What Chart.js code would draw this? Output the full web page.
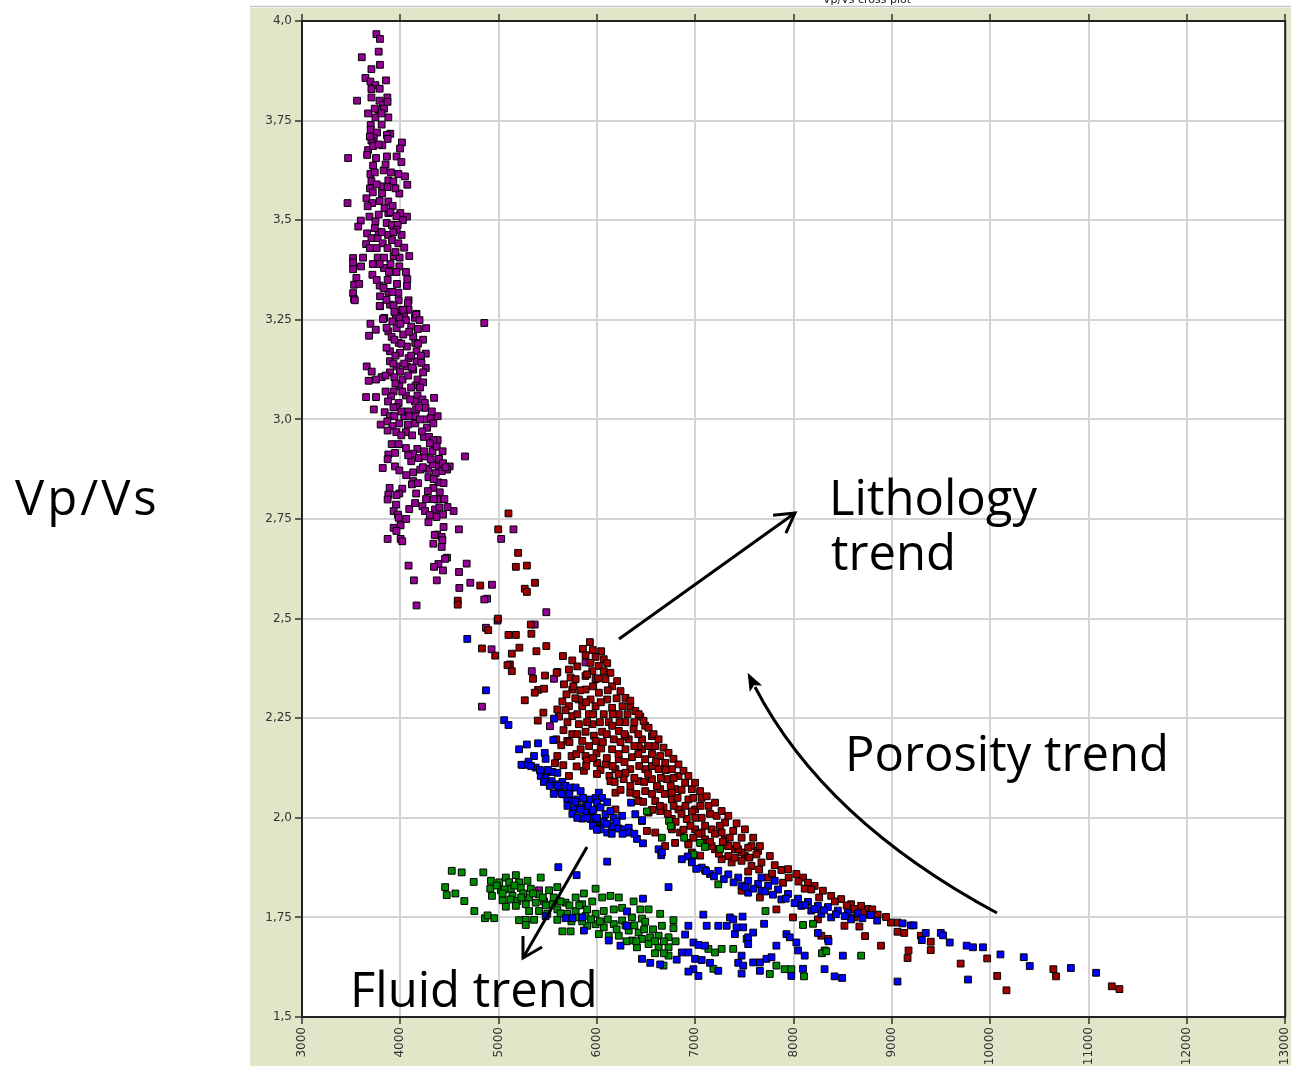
<!DOCTYPE html>
<html>
<head>
<meta charset="utf-8">
<script src="https://cdn.jsdelivr.net/npm/chart.js@4/dist/chart.umd.min.js"></script>
<style>
html,body{margin:0;padding:0;background:#fff;}
canvas{display:block;}
</style>
</head>
<body>
<canvas id="c" width="1291" height="1066"></canvas>
<script>
// ---- axis ranges / ticks ----
const xRange = [3000, 13000];
const yRange = [1.5, 4.0];
const xStep = 1000;
const yStep = 0.25;

// ---- series (x, Vp/Vs) ----
const purplePoints = [
[3757,3.967],[3793,3.955],[3780,3.923],[3608,3.909],[3793,3.89],[3706,3.879],[3645,3.857],[3854,3.851],[3696,3.848],[3747,3.839],
[3706,3.829],[3560,3.80],[3706,3.808],[3788,3.80],[3868,3.808],[3824,3.79],[3870,3.797],[3780,3.777],[3834,3.78],[3672,3.768],
[3747,3.758],[3878,3.758],[3808,3.768],[3699,3.739],[3699,3.727],[3763,3.72],[3730,3.706],[3898,3.717],[3864,3.714],[3871,3.704],
[4016,3.695],[3997,3.68],[3817,3.688],[3706,3.70],[3672,3.676],[3723,3.686],[3662,3.664],[3469,3.656],[3753,3.656],[3864,3.66],
[3962,3.66],[4011,3.646],[3723,3.637],[3831,3.625],[3696,3.616],[3980,3.616],[4047,3.61],[3878,3.60],[3929,3.597],[4071,3.589],
[3706,3.598],[3814,3.585],[3871,3.583],[3990,3.567],[3814,3.567],[3692,3.58],[3655,3.555],[3463,3.543],[3713,3.543],[3790,3.548],
[3878,3.547],[3922,3.536],[3668,3.535],[3878,3.518],[3780,3.514],[3686,3.509],[4000,3.518],[4067,3.509],[4026,3.50],[3598,3.499],
[3572,3.484],[3747,3.497],[3861,3.493],[3915,3.488],[3973,3.488],[4013,3.463],[3963,3.476],[3662,3.467],[3706,3.455],[3769,3.455],
[3652,3.44],[3780,3.471],[3875,3.463],[3821,3.442],[3915,3.45],[3980,3.442],[4040,3.431],[4091,3.41],[3520,3.405],[3621,3.406],
[3770,3.406],[3834,3.406],[3932,3.41],[3993,3.406],[3520,3.394],[3601,3.384],[3520,3.377],[3716,3.363],[3553,3.355],[3834,3.38],
[3885,3.37],[3990,3.384],[4057,3.37],[4071,3.352],[3530,3.338],[3582,3.34],[3790,3.336],[3871,3.35],[3966,3.34],[4067,3.335],
[3520,3.317],[3794,3.309],[3878,3.32],[3980,3.318],[3530,3.302],[4084,3.299],[3983,3.299],[3794,3.284],[3895,3.288],[3932,3.286],
[4013,3.275],[4084,3.275],[4165,3.265],[4148,3.255],[3837,3.255],[3956,3.26],[4040,3.26],
[3537,3.299],[3790,3.285],[4077,3.292],[4030,3.275],[3824,3.252],[3919,3.246],[3993,3.254],[4161,3.263],[4195,3.249],[4057,3.249],
[4854,3.242],[3696,3.24],[3750,3.225],[3682,3.21],[3878,3.221],[3962,3.229],[4111,3.233],[4179,3.227],[4262,3.229],[3912,3.207],
[4030,3.213],[4131,3.208],[4232,3.20],[3983,3.192],[4067,3.183],[4152,3.192],[3895,3.171],[3996,3.167],[4165,3.171],[4259,3.165],
[4084,3.154],[3895,3.146],[4165,3.146],[3962,3.133],[3658,3.133],[3709,3.12],[4067,3.133],[4259,3.129],[4215,3.142],[3895,3.118],
[3996,3.12],[4131,3.125],[4232,3.118],[3810,3.106],[3753,3.10],[3678,3.097],[3939,3.106],[4023,3.10],[4175,3.10],[4232,3.093],
[4155,3.085],[3990,3.083],[3932,3.07],[3905,3.058],[4057,3.06],[4175,3.06],[4225,3.05],[4343,3.054],[3652,3.056],[3753,3.056],
[3875,3.045],[3983,3.041],[4148,3.045],[4249,3.041],[3730,3.025],[3841,3.018],[3962,3.031],[4077,3.02],[4161,3.025],[4256,3.029],
[3895,3.008],[3939,3.008],[4040,3.008],[4091,3.008],[4155,3.008],[4262,3.00],[4309,3.004],[4380,3.008],[3800,2.987],[3868,2.995],
[3919,2.983],[4077,2.987],[4152,2.99],[4272,2.979],[4336,2.99],[3871,2.972],[3959,2.968],[4057,2.968],[4239,2.956],[4293,2.956],
[4351,2.932],[4380,2.948],[4336,2.948],[3912,2.938],[3983,2.938],[4057,2.928],[4173,2.926],[4327,2.92],[4370,2.932],[3878,2.912],
[3946,2.916],[4131,2.914],[4189,2.903],[4249,2.907],[4394,2.901],[4658,2.907],[3871,2.90],[4111,2.895],[3821,2.878],[3946,2.882],
[3990,2.872],[4131,2.867],[4203,2.874],[4283,2.876],[4327,2.887],[4394,2.882],[4434,2.89],[4502,2.882],[4476,2.874],[4421,2.87],
[4360,2.865],[4286,2.855],[4131,2.845],[4118,2.837],[4387,2.842],[4336,2.828],[3891,2.828],[4020,2.826],[3878,2.811],[3990,2.814],
[4161,2.814],[4262,2.80],[4401,2.817],[4448,2.80],[4374,2.799],[3871,2.799],[3956,2.786],[4091,2.775],[4225,2.782],[4252,2.77],
[4353,2.774],[4397,2.779],[3932,2.77],[3976,2.761],[3983,2.753],[4542,2.77],[4434,2.761],[4367,2.755],[4286,2.742],[3932,2.728],
[4003,2.734],[3871,2.70],[4003,2.70],[4020,2.694],[4336,2.688],[4374,2.711],[4421,2.705],[4428,2.697],[4421,2.68],[4596,2.724],
[4475,2.653],[4455,2.65],[4675,2.638],[4084,2.633],[4387,2.637],[4343,2.63],[4434,2.621],[4597,2.617],[4138,2.596],[4371,2.596],
[4712,2.59],[4600,2.577],[4932,2.585],[4883,2.55],[4165,2.533],[5151,2.724],[5026,2.70],[5485,2.516],[4854,2.548],[4989,2.495],
[5367,2.485],[4871,2.477],[4928,2.423],[5337,2.368],[5563,2.349],[4830,2.279],[5522,2.23],[5884,2.39],[5411,1.818],[5597,1.792],
[3740,3.62],[3850,3.64],[3905,3.62],[3760,3.59],[3950,3.58],[3720,3.57],[3840,3.53],[3900,3.52],[3960,3.51],[3740,3.48],
[3810,3.47],[3930,3.47],[3690,3.43],[3760,3.43],[3870,3.43],[3950,3.42],[3720,3.39],[3790,3.39],[3900,3.39],[3960,3.37],
[3760,3.35],[3830,3.33],[3920,3.32],[3860,3.30],[3940,3.27],[4000,3.24],[3860,3.23],[4090,3.22],[3940,3.20],[4010,3.19],
[4180,3.19],[3860,3.18],[3950,3.16],[4110,3.16],[4210,3.16],[3930,3.14],[4040,3.14],[4120,3.13],[3850,3.11],[4080,3.11],
[3950,3.09],[4110,3.08],[4200,3.08],[3850,3.07],[4020,3.07],[4100,3.05],[4190,3.03],[3930,3.03],[4010,3.02],[4320,3.02],
[4200,3.00],[3990,2.99],[4220,2.97],[4120,2.96],[4300,2.94],[4010,2.96],[4430,2.92],[4240,2.92],[4080,2.91],[4310,2.90],
[4460,2.88],[4230,2.88],[4060,2.86],[4340,2.85],[4180,2.84],[4440,2.84],[4280,2.82],[3960,2.81],[4340,2.80],[4150,2.79],
[4480,2.78],[4300,2.76],[4060,2.75],[4440,2.73],[3960,2.72],[4350,2.71],[3790,3.83],[3740,3.78],[3810,3.74],[3690,3.71],[3780,3.69]
];

const redPoints = [
[4584,2.545],[4584,2.535],[4996,2.724],[5100,2.764],[5198,2.665],[5175,2.63],[5287,2.633],[5370,2.59],[5266,2.575],[5287,2.567],
[4993,2.50],[4813,2.583],[5327,2.485],[4894,2.471],[5100,2.459],[5175,2.459],[5333,2.462],[4830,2.425],[5211,2.427],[5384,2.418],
[5485,2.431],[4965,2.407],[5134,2.412],[5654,2.406],[5749,2.395],[5114,2.385],[5090,2.383],[5134,2.368],[5350,2.349],[5472,2.357],
[5597,2.366],[5715,2.372],[5266,2.295],[5401,2.321],[5462,2.324],[5367,2.314],[5455,2.264],[5398,2.244],[5597,2.272],[5586,2.197],
[5637,2.182],[5698,2.193],[5597,2.155],[5573,2.137],[5658,2.132],[5715,2.105],[5793,2.129],[5742,2.155],[5834,2.172],[5867,2.118],
[5884,2.155],[5894,2.144],[5995,2.162],[6043,2.174],[6036,2.12],[6002,2.138],[6087,2.134],[6127,2.105],
[5928,2.441],[5857,2.424],[5958,2.421],[6043,2.418],[5884,2.408],[5986,2.404],[6069,2.398],[5935,2.389],[6104,2.388],[6019,2.381],
[5952,2.368],[6069,2.368],[6137,2.364],[5884,2.356],[5986,2.348],[6087,2.348],[6205,2.343],[6154,2.33],[5732,2.352],[5783,2.348],
[5664,2.335],[5749,2.322],[5590,2.364],[5884,2.322],[6019,2.314],[6239,2.318],[6290,2.301],[6104,2.297],[5935,2.297],[5816,2.297],
[5648,2.292],[5715,2.28],[5850,2.28],[5986,2.28],[6154,2.276],[6339,2.28],[6390,2.268],[6222,2.26],[6069,2.26],[5918,2.26],
[5749,2.255],[5614,2.254],[5816,2.235],[5952,2.235],[6120,2.24],[6290,2.24],[6441,2.254],[6491,2.231],[6373,2.222],[6222,2.218],
[6053,2.216],[5884,2.216],[5749,2.21],[5968,2.206],[5850,2.193],[6171,2.197],[6323,2.197],[6458,2.197],[6559,2.205],[6593,2.18],
[6458,2.172],[6290,2.172],[6154,2.172],[6222,2.147],[6356,2.152],[6491,2.147],[6643,2.155],[6694,2.138],[6762,2.122],[6627,2.122],
[6491,2.122],[6339,2.122],[6188,2.122],[6137,2.092],[6272,2.097],[6424,2.092],[6559,2.097],[6712,2.097],[6829,2.105],[6897,2.088],
[6965,2.072],[6795,2.072],[6643,2.072],[6491,2.067],[6339,2.063],[6188,2.063],[6424,2.042],[6593,2.042],[6762,2.046],[6930,2.046],
[7065,2.05],[7133,2.03],[6998,2.021],[6829,2.021],[6677,2.026],[6525,2.013],[6762,1.997],[6913,1.997],[7065,2.0],[7217,2.005],
[7302,1.988],[7167,1.971],[6998,1.971],[6846,1.963],[7386,1.967],[7471,1.95],[7302,1.946],[7099,1.946],[6930,1.937],[7572,1.929],
[7639,1.917],[7403,1.921],[7201,1.921],[7336,1.904],[7505,1.904],[7758,1.904],[6643,2.017],[6188,2.021],[6458,1.992],[6508,1.967],
[6694,1.929],
[6339,2.294],[6424,2.26],[6474,2.243],[6525,2.226],[6576,2.21],[6627,2.197],[6677,2.176],[6728,2.163],[6778,2.148],[6829,2.134],
[6880,2.118],[6930,2.105],[6998,2.088],[7049,2.067],[7116,2.054],[7201,2.038],[7268,2.017],[7336,2.005],[7420,1.986],[7505,1.971],
[7589,1.95],[7657,1.929],[6290,2.205],[6424,2.18],[6559,2.13],[6762,2.063],[6965,2.016],[7065,1.963],[7268,1.963],[7336,1.929],
[7471,1.913],[6762,1.971],[6593,1.963],[6290,2.113],[5986,2.193],[6154,2.231],
[6795,1.937],[6930,1.933],[7065,1.937],[7167,1.929],[6965,1.913],[7049,1.905],[7336,1.929],[7437,1.921],[7538,1.925],[7622,1.908],
[7268,1.896],[7370,1.888],[7471,1.892],[7572,1.879],[7673,1.888],[7808,1.881],[7876,1.869],[7943,1.871],[8028,1.859],[8096,1.85],
[8146,1.837],[8214,1.829],[8298,1.817],[8382,1.804],[8484,1.796],[8585,1.783],[8687,1.779],[8754,1.771],[7538,1.865],[7741,1.85],
[7893,1.837],[7657,1.80],[7825,1.77],[7994,1.75],[8247,1.745],[8282,1.704],[8349,1.696],[8517,1.729],[8669,1.727],[8727,1.703],
[7471,1.817],[8113,1.822],
[8889,1.679],[9057,1.737],[8990,1.737],[9057,1.714],[9125,1.711],[9169,1.667],[9159,1.648],[9294,1.704],[9395,1.689],[9395,1.668],
[9699,1.634],[9969,1.647],[10071,1.603],[10165,1.567],[10642,1.62],[10669,1.602],[11236,1.577],[11314,1.57],[8940,1.751],[8855,1.757],
[8771,1.757],[8618,1.771],[8703,1.761],
[5800,2.38],[5900,2.36],[6010,2.35],[5760,2.33],[5830,2.32],[5960,2.33],[6110,2.32],[6200,2.30],[5690,2.31],[5780,2.30],
[5890,2.29],[6040,2.29],[6260,2.28],[5680,2.27],[5800,2.26],[5960,2.26],[6160,2.26],[6310,2.26],[5700,2.24],[5900,2.24],
[6030,2.24],[6230,2.24],[6380,2.24],[5660,2.22],[5800,2.21],[6100,2.21],[6280,2.21],[6420,2.21],[5720,2.19],[5920,2.18],
[6060,2.19],[6240,2.19],[6380,2.18],[6520,2.18],[5790,2.16],[5960,2.15],[6100,2.15],[6220,2.16],[6420,2.16],[6560,2.16],
[5890,2.13],[6160,2.13],[6280,2.14],[6430,2.13],[6600,2.14],[6700,2.12],[6000,2.11],[6220,2.11],[6380,2.10],[6520,2.11],
[6650,2.10],[6780,2.10],[6180,2.09],[6340,2.08],[6480,2.09],[6610,2.08],[6750,2.08],[6860,2.07],[6240,2.07],[6400,2.06],
[6560,2.06],[6690,2.06],[6820,2.05],[6980,2.05],[6470,2.04],[6640,2.03],[6780,2.03],[6900,2.03],[7050,2.03],[6560,2.02],
[6720,2.01],[6860,2.01],[7000,2.00],[7150,2.01],[6800,1.99],[6950,1.98],[7100,1.98],[7250,1.98],[6880,1.97],[7030,1.96],
[7200,1.96],[7350,1.95],[6980,1.95],[7150,1.94],[7280,1.94],[7420,1.93],[7240,1.91],[7400,1.90],[7550,1.90],[7650,1.87],
[7780,1.86],[7950,1.85],[8050,1.84],[8180,1.82],[8260,1.80],[8420,1.79],[8540,1.78],[8620,1.75],[8800,1.77]
];

const bluePoints = [
[4681,2.449],[4871,2.32],[5056,2.245],[5100,2.233],[5563,2.249],[5556,2.195],[5287,2.184],[5401,2.187],[5208,2.172],[5469,2.163],
[5360,2.155],[5478,2.148],[5304,2.141],[5259,2.133],[5232,2.133],[5377,2.126],[5428,2.105],[5478,2.10],[5546,2.115],[5597,2.113],
[5540,2.092],[5580,2.084],[5648,2.09],[5681,2.08],[5614,2.067],[5664,2.059],[5732,2.076],[5783,2.076],[5834,2.067],[5698,2.048],
[5749,2.042],[5800,2.046],[5884,2.034],[5935,2.046],[5986,2.05],[6019,2.063],[6053,2.05],[6104,2.039],[6002,2.038],[5816,2.026],
[5884,2.013],[5952,2.017],[6036,2.026],[5766,2.021],[5850,1.998],[5935,1.997],[5986,1.988],[6053,1.99],[6036,1.971],[6104,1.963],
[6154,1.979],[6222,1.973],[6272,1.971],[6323,1.975],[6087,2.009],[6171,2.0],[6256,2.005],[6323,1.963],[6137,2.017],[6347,2.038],
[6390,2.009],[6458,1.994],[6407,1.947],[6468,1.936],[6627,1.921],[6654,1.906],[6923,1.903],
[5607,1.876],[6104,1.89],[5793,1.856],[6660,1.913],[6728,1.826],[6468,1.797],[7082,1.757],[5478,1.753],[5681,1.748],[5749,1.748],
[5850,1.75],[5867,1.717],[6120,1.692],[6239,1.679],[6306,1.729],[6306,1.765],[6458,1.646],[6542,1.636],[6643,1.632],[6811,1.644],
[6930,1.729],[6897,1.707],[6981,1.687],[7032,1.681],[7099,1.679],[6930,1.662],[6863,1.662],[6998,1.646],[7065,1.643],[7150,1.636],
[6981,1.62],[6930,1.614],[7032,1.603],[7234,1.616],[7116,1.729],[7234,1.729],[7319,1.729],[7353,1.75],[7386,1.745],[7481,1.752],
[7403,1.708],[7420,1.725],[7488,1.725],[7538,1.70],[7589,1.712],[7538,1.683],[7471,1.654],[7437,1.636],[7488,1.629],[7471,1.609],
[7589,1.637],[7657,1.637],[7724,1.646],[7775,1.65],[7657,1.616],[7825,1.679],[7927,1.708],[7961,1.70],[8028,1.687],[8045,1.667],
[8113,1.654],[7977,1.603],[8096,1.621],[8315,1.62],[8417,1.602],[8494,1.598],[8501,1.654],[7700,1.734],
[6863,1.896],[6965,1.888],[7065,1.875],[7150,1.859],[7234,1.867],[7336,1.858],[7437,1.85],[7538,1.842],[7639,1.834],[7741,1.829],
[7842,1.82],[7943,1.809],[8045,1.797],[8146,1.789],[8247,1.779],[8349,1.776],[8450,1.767],[8551,1.762],[8652,1.76],[8787,1.756],
[7471,1.83],[7673,1.85],[7876,1.795],[8079,1.779],[8282,1.759],[7673,1.817],[7808,1.842],[7538,1.812],[8180,1.767],[8382,1.75],
[8585,1.745],
[9109,1.735],[9193,1.73],[9220,1.73],[9344,1.711],[9304,1.693],[9497,1.711],[9520,1.705],[9588,1.687],[9760,1.679],[9824,1.675],
[9926,1.675],[10104,1.657],[10341,1.65],[10402,1.628],[10820,1.623],[11077,1.611],[9774,1.594],[9057,1.589],[8247,1.711],[8355,1.69],
[5330,2.13],[5420,2.12],[5500,2.12],[5460,2.09],[5520,2.08],[5600,2.08],[5560,2.06],[5640,2.06],[5720,2.06],[5700,2.03],
[5780,2.04],[5860,2.05],[5750,2.01],[5830,2.02],[5910,2.03],[5960,2.02],[5800,2.00],[5900,2.00],[6000,2.00],[6070,1.99],
[5960,1.98],[6100,1.985],[6200,1.99],[6000,1.97],[6150,1.96],[6260,1.96],[6380,1.96],
[7010,1.872],[7110,1.866],[7190,1.853],[7290,1.846],[7390,1.838],[7510,1.826],[7590,1.822],[7710,1.815],[7790,1.807],[7920,1.797],
[8010,1.786],[8120,1.781],[8210,1.771],[8310,1.768],[8430,1.758],[8520,1.753],[8700,1.748],[8850,1.742]
];

const greenPoints = [
[6508,2.016],[6734,1.992],[6751,1.979],[6660,1.95],[6887,1.95],[7049,1.937],[7099,1.927],[7252,1.922],[6981,1.906],
[4523,1.867],[4624,1.863],[4844,1.863],[4746,1.839],[4456,1.826],[4560,1.81],[4472,1.806],[4651,1.791],[4753,1.766],[4861,1.748],
[4955,1.748],[4887,1.755],[4921,1.842],[5006,1.838],[5073,1.85],[5175,1.856],[5107,1.838],[5208,1.838],[5293,1.842],[4915,1.822],
[5023,1.818],[5124,1.822],[5225,1.824],[5327,1.822],[5428,1.85],[4932,1.804],[5040,1.793],[5141,1.804],[5191,1.791],[5310,1.80],
[5411,1.808],[5513,1.818],[5597,1.826],[5073,1.777],[5175,1.779],[5276,1.783],[5377,1.787],[5462,1.79],[5546,1.783],[5310,1.766],
[5411,1.766],[5495,1.759],[5597,1.77],[5681,1.787],[5783,1.80],[5867,1.81],[5986,1.822],[5276,1.744],[5208,1.743],[5276,1.731],
[5360,1.744],[5597,1.744],[5648,1.715],[5732,1.715],[5698,1.759],[5783,1.766],[5850,1.783],[5952,1.79],[6053,1.80],[6137,1.804],
[6222,1.80],[5800,1.75],[5884,1.754],[5986,1.759],[6069,1.766],[6171,1.77],[6256,1.774],[6373,1.79],[6441,1.77],[6525,1.77],
[5901,1.729],[5986,1.733],[6069,1.725],[6171,1.733],[6256,1.742],[6356,1.75],[6458,1.747],[6491,1.739],[6643,1.759],[6778,1.743],
[6019,1.708],[6120,1.704],[6222,1.704],[6323,1.717],[6424,1.712],[6356,1.692],[6458,1.696],[6542,1.70],[6627,1.704],[6728,1.70],
[6660,1.729],[6778,1.723],[6525,1.683],[6627,1.675],[6728,1.675],[6407,1.675],[6728,1.654],[6677,1.629],[7133,1.671],[7201,1.662],
[7268,1.671],[7386,1.671],[7184,1.621],[7522,1.696],[7714,1.766],[7825,1.629],[7758,1.608],[7909,1.62],[7977,1.62],[8106,1.602],
[8096,1.731],[8197,1.734],[8315,1.667],[8687,1.654],[6981,1.908],[7099,1.869],[7234,1.833],[8288,1.66],[8332,1.665],
[4980,1.83],[5060,1.82],[5160,1.83],[5250,1.81],[5350,1.81],[5450,1.80],[5040,1.81],[5120,1.795],[5230,1.80],[5480,1.78],
[5560,1.80],[5630,1.79],[5720,1.78],[5820,1.78],[5900,1.77],[5630,1.76],[5740,1.74],[5850,1.74],[5940,1.745],[6030,1.74],
[6110,1.745],[6200,1.72],[6290,1.73],[6380,1.73],[6480,1.72],[6570,1.72],[6300,1.69],[6400,1.69],[6590,1.69],[6680,1.69],
[6800,1.69],[6590,1.66],[6680,1.66]
];

const seriesColors = { blue:'#0000ff', green:'#008a00', red:'#a00000', purple:'#950095' };

function toXY(arr){ return arr.map(p => ({x:p[0], y:p[1]})); }
function ds(label, pts, color){
  return { label, data: toXY(pts), backgroundColor: color, borderColor:'#000', borderWidth:1,
           pointStyle:'rect', pointRadius:4.8, pointHoverRadius:4.8, showLine:false };
}

const decorPlugin = {
  id:'decor',
  beforeDraw(chart){
    const ctx = chart.ctx, a = chart.chartArea;
    ctx.save();
    ctx.fillStyle = '#fff'; ctx.fillRect(0,0,chart.width,chart.height);
    ctx.fillStyle = '#e2e6c8'; ctx.fillRect(250,8,chart.width-250,chart.height-8);
    ctx.strokeStyle = '#c4c4c4'; ctx.lineWidth = 1.5;
    ctx.beginPath(); ctx.moveTo(250,6.5); ctx.lineTo(chart.width,6.5); ctx.stroke();
    ctx.fillStyle = '#fff'; ctx.fillRect(a.left,a.top,a.right-a.left,a.bottom-a.top);
    ctx.fillStyle = '#222'; ctx.font = '11px "DejaVu Sans"'; ctx.textAlign='center'; ctx.textBaseline='alphabetic';
    ctx.fillText('Vp/Vs cross plot', 867, 3);
    ctx.restore();
  },
  afterDraw(chart){
    const ctx = chart.ctx, a = chart.chartArea, xs = chart.scales.x;
    ctx.save();
    ctx.strokeStyle = '#222'; ctx.lineWidth = 2;
    ctx.beginPath(); ctx.moveTo(a.left,a.top); ctx.lineTo(a.right,a.top); ctx.lineTo(a.right,a.bottom); ctx.stroke();
    ctx.lineWidth = 1.5; ctx.strokeStyle = '#333';
    for(let v=xRange[0]; v<=xRange[1]; v+=xStep){
      const px = Math.round(xs.getPixelForValue(v));
      ctx.beginPath(); ctx.moveTo(px,a.top-7); ctx.lineTo(px,a.top); ctx.stroke();
    }
    ctx.fillStyle = '#000'; ctx.textAlign='left'; ctx.textBaseline='alphabetic';
    ctx.font = '49px "Open Sans"';
    let x = 15; const s = 'Vp/Vs';
    for (const ch of s){ ctx.fillText(ch, x, 515); x += ctx.measureText(ch).width + 3; }
    ctx.fillText('Lithology', 829, 515);
    ctx.fillText('trend', 831, 570);
    ctx.fillText('Porosity trend', 845, 771);
    ctx.fillText('Fluid trend', 350, 1007);
    ctx.strokeStyle = '#000'; ctx.lineWidth = 3; ctx.lineCap = 'butt';
    function openArrow(x1,y1,x2,y2){
      ctx.beginPath(); ctx.moveTo(x1,y1); ctx.lineTo(x2,y2); ctx.stroke();
      const ang = Math.atan2(y1-y2, x1-x2), L = 22, w = Math.PI/6;
      ctx.beginPath();
      ctx.moveTo(x2 + L*Math.cos(ang+w), y2 + L*Math.sin(ang+w));
      ctx.lineTo(x2,y2);
      ctx.lineTo(x2 + L*Math.cos(ang-w), y2 + L*Math.sin(ang-w));
      ctx.stroke();
    }
    openArrow(619,639,795,513);
    openArrow(587,847,523,958);
    const P0=[997,913], C=[824,820], P2=[755,687];
    ctx.beginPath(); ctx.moveTo(P0[0],P0[1]); ctx.quadraticCurveTo(C[0],C[1],P2[0],P2[1]); ctx.stroke();
    let dx = P2[0]-C[0], dy = P2[1]-C[1]; const dl = Math.hypot(dx,dy); dx/=dl; dy/=dl;
    const tip = [P2[0]+dx*16, P2[1]+dy*16];
    const nx = -dy, ny = dx;
    ctx.fillStyle = '#000';
    ctx.beginPath();
    ctx.moveTo(tip[0],tip[1]);
    ctx.lineTo(P2[0]-dx*2+nx*7, P2[1]-dy*2+ny*7);
    ctx.lineTo(P2[0]+dx*2, P2[1]+dy*2);
    ctx.lineTo(P2[0]-dx*2-nx*7, P2[1]-dy*2-ny*7);
    ctx.closePath(); ctx.fill();
    ctx.restore();
  }
};

new Chart(document.getElementById('c'), {
  type:'scatter',
  data:{ datasets:[
    ds('blue', bluePoints, seriesColors.blue),
    ds('green', greenPoints, seriesColors.green),
    ds('red', redPoints, seriesColors.red),
    ds('purple', purplePoints, seriesColors.purple)
  ]},
  options:{
    responsive:false, animation:false, devicePixelRatio:1,
    layout:{ padding:{ left:0, top:21, right:3, bottom:0 } },
    plugins:{ legend:{display:false}, tooltip:{enabled:false}, title:{display:false} },
    events:[],
    scales:{
      x:{ type:'linear', min:xRange[0], max:xRange[1],
        afterFit(s){ s.height = 49; s.paddingLeft = 0; s.paddingRight = 0; },
        ticks:{ stepSize:xStep, autoSkip:false, minRotation:90, maxRotation:90, padding:3,
          color:'#333', font:{family:'"DejaVu Sans"', size:12},
          callback:(v)=>String(v) },
        grid:{ color:'#d4d4d4', lineWidth:2, tickColor:'#333', tickWidth:1.5, tickLength:7 },
        border:{ color:'#222', width:2 }
      },
      y:{ type:'linear', min:yRange[0], max:yRange[1],
        afterFit(s){ s.width = 302; s.paddingTop = 0; s.paddingBottom = 0; },
        ticks:{ stepSize:yStep, autoSkip:false, padding:3, color:'#333',
          font:{family:'"DejaVu Sans"', size:12},
          callback:(v)=>{ const r = Math.round(v*100); return ((r%10===0)? v.toFixed(1) : v.toFixed(2)).replace('.', ','); } },
        grid:{ color:'#d4d4d4', lineWidth:2, tickColor:'#333', tickWidth:1.5, tickLength:7 },
        border:{ color:'#222', width:2 }
      }
    }
  },
  plugins:[decorPlugin]
});
</script>
</body>
</html>
